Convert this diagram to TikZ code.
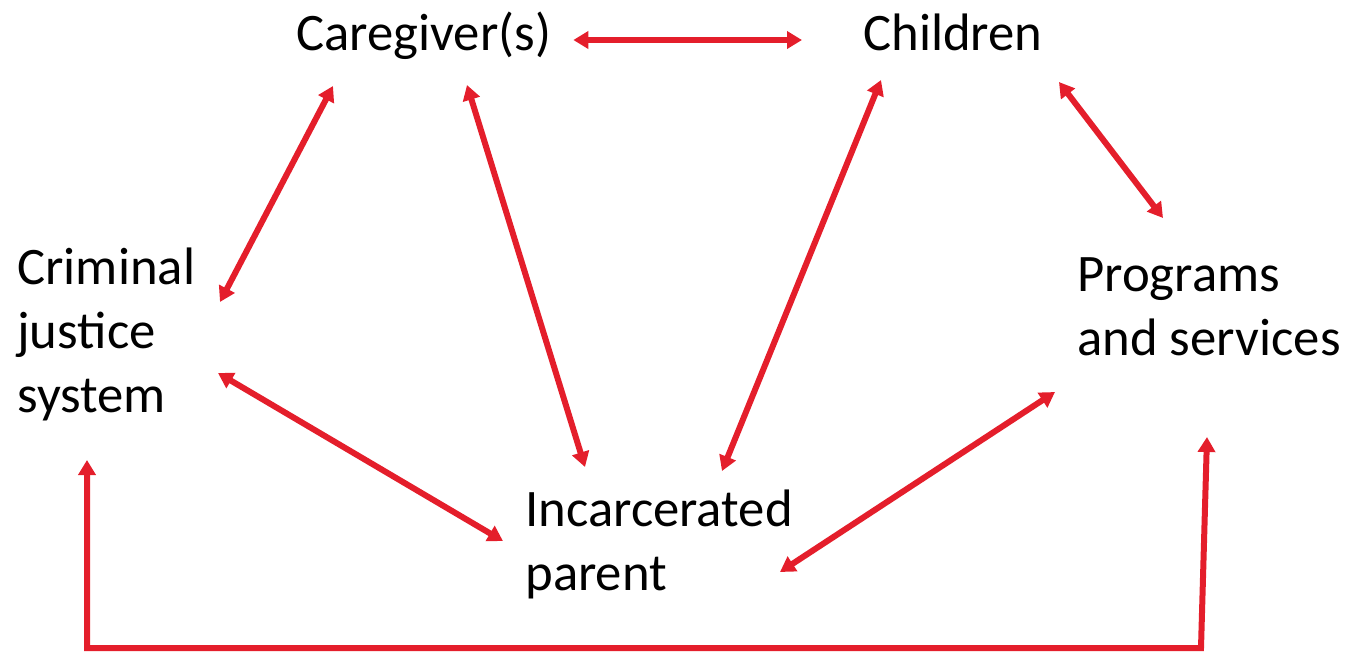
\documentclass[tikz,border=0pt]{standalone}
\usepackage{fontspec}
\setmainfont{Carlito}
\usepackage{tikz}
\usetikzlibrary{positioning,arrows.meta,calc}
\definecolor{linkred}{RGB}{228,30,43}
\tikzset{
  famlabel/.style={align=left, inner sep=0pt, font=\fontsize{30pt}{36.4pt}\selectfont},
  famarrow/.style={{Triangle[length=3mm,width=3.4mm]}-{Triangle[length=3mm,width=3.4mm]},
    line width=1.2mm, draw=linkred},
}

\begin{document}
\begin{tikzpicture}[x=0.02cm,y=-0.02cm]
  \useasboundingbox (0,0) rectangle (1350,654);
  % Beteiligte
  \node[famlabel, anchor=base west] (care) at (296,50) {Caregiver(s)};
  \node[famlabel, anchor=base west] (child) at (863,50) {Children};
  \node[famlabel, anchor=base west] (crim) at (17,412) {Criminal\\justice\\system};
  \node[famlabel, anchor=base west] (prog) at (1077,355) {Programs\\and services};
  \node[famlabel, anchor=base west] (inc) at (525,590) {Incarcerated\\parent};
  % Verbindungen
  \draw[famarrow] ($(care.base east)+(22,-10)$) -- ($(child.base west)+(-61,-10)$);
  \draw[famarrow] ($(care.base west)+(37,36)$) -- ($(crim.base west)+(203,-110)$);
  \draw[famarrow] ($(care.base west)+(171,35)$) -- ($(inc.base west)+(60,-123)$);
  \draw[famarrow] ($(child.base west)+(18,30)$) -- ($(inc.base west)+(197,-119)$);
  \draw[famarrow] ($(child.base east)+(16,32)$) -- ($(prog.base west)+(86,-137)$);
  \draw[famarrow] ($(crim.base west)+(201,-39)$) -- ($(inc.base west)+(-22,-49)$);
  \draw[famarrow] ($(prog.base west)+(-22,37)$) -- ($(inc.base west)+(255,-18)$);
  % unten herum
  \draw[famarrow] ($(crim.base west)+(70,48)$) -- ++(0,188) -- ++(1114,0) -- ($(prog.base west)+(130,82)$);
\end{tikzpicture}
\end{document}
